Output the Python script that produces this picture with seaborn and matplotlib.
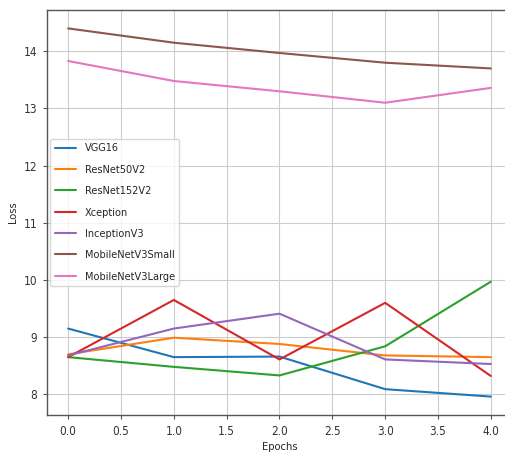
import numpy as np
import pandas as pd
import matplotlib
matplotlib.use("Agg")
import matplotlib.pyplot as plt
import seaborn as sns

# values
epochs = [0, 1, 2, 3, 4]
models = ["VGG16", "ResNet50V2", "ResNet152V2", "Xception", "InceptionV3",
          "MobileNetV3Small", "MobileNetV3Large"]
vgg16 = [9.15, 8.65, 8.66, 8.09, 7.96]
resnet50v2 = [8.70, 8.99, 8.88, 8.68, 8.65]
resnet152v2 = [8.65, 8.48, 8.33, 8.84, 9.97]
xception = [8.65, 9.65, 8.61, 9.60, 8.32]
inceptionv3 = [8.68, 9.15, 9.41, 8.61, 8.53]
mnv3_small = [14.40, 14.15, 13.97, 13.80, 13.70]
mnv3_large = [13.83, 13.48, 13.30, 13.10, 13.36]

sns.set_style("whitegrid")
plt.rcParams["font.family"] = ["DejaVu Sans"]
plt.rcParams["font.stretch"] = "condensed"


def main():
    series = [vgg16, resnet50v2, resnet152v2, xception, inceptionv3,
              mnv3_small, mnv3_large]
    df = pd.DataFrame({
        "Epochs": np.tile(epochs, len(models)),
        "Loss": np.concatenate(series),
        "model": np.repeat(models, len(epochs)),
    })

    fig = plt.figure(figsize=(5.06, 4.55), dpi=100)
    ax = fig.add_axes([47 / 506, 40 / 455, (512 - 47) / 506, (415 - 10) / 455])
    sns.lineplot(data=df, x="Epochs", y="Loss", hue="model",
                 palette="tab10", linewidth=1.5, sort=False, ax=ax)

    for side in ["left", "bottom", "top"]:
        ax.spines[side].set_color("#555555")
        ax.spines[side].set_linewidth(1.0)
    # the reference is cropped just before its right edge
    ax.spines["right"].set_visible(False)
    ax.grid(True, color="#cccccc", linewidth=0.8)
    ax.tick_params(axis="both", labelsize=8.5, length=3, pad=4,
                   color="#555555", labelcolor="#333333",
                   left=True, bottom=True)
    ax.set_xlabel("Epochs", fontsize=8, labelpad=3)
    ax.set_ylabel("Loss", fontsize=8)
    ax.set_xticks(np.arange(0, 4.01, 0.5))
    ax.legend(title=None, loc="center left", fontsize=7.8, frameon=True,
              handlelength=2.0, labelspacing=1.05, borderaxespad=0.3)

    fig.savefig("out.png", dpi=100)
    plt.close(fig)


if __name__ == "__main__":
    main()
